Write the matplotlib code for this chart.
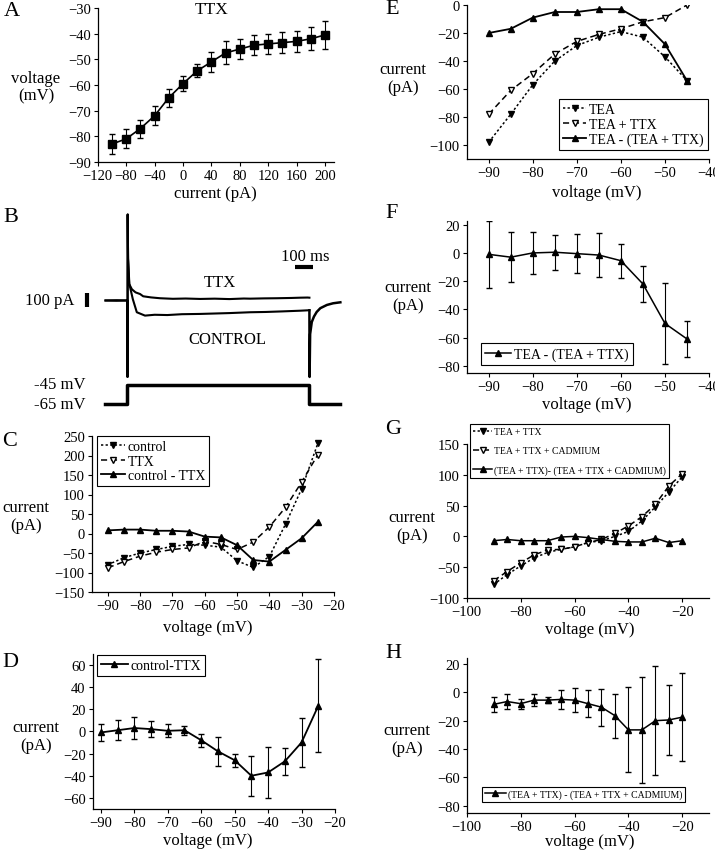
import numpy as np
import matplotlib
matplotlib.use("Agg")
import matplotlib.pyplot as plt

plt.rcParams['font.family'] = ['Liberation Serif', 'DejaVu Serif']
plt.rcParams['font.size'] = 10.5
plt.rcParams['axes.linewidth'] = 0.9

W, H = 715, 853

# ---------------- data ----------------
# A: current injection vs membrane voltage (TTX)
a_cur = [-100, -80, -60, -40, -20, 0, 20, 40, 60, 80, 100, 120, 140, 160, 180, 200]
a_volt = [-83, -81, -77, -72, -65, -59.5, -54.5, -51, -47.5, -46, -44.5, -44, -43.5, -43, -42, -40.5]
a_err = [4, 3.7, 3.5, 3.7, 3.5, 3, 2.5, 4, 4.5, 4, 4, 4, 4, 4.2, 4.5, 5.5]

# B: example current traces (ms, pA relative to holding)
b_ttx_t = [-120, -60, 0, 1, 2, 4, 10, 25, 45, 70, 87, 130, 180, 250, 320, 400, 480, 560, 640, 675, 750, 820, 900, 950, 990, 1000]
b_ttx_i = [0, 2, 0, -546, 614, 300, 118, 80, 58, 46, 30, 22, 16, 12, 14, 11, 13, 10, 14, 13, 15, 16, 18, 20, 21, 20]
b_ctl_t = [-120, -60, 0, 1, 2, 4, 11, 30, 52, 97, 150, 220, 300, 400, 480, 560, 675, 760, 850, 950, 995, 1000]
b_ctl_i = [0, -2, 0, -546, 614, 300, 118, 10, -84, -108, -102, -104, -98, -96, -93, -90, -84, -82, -78, -73, -70, -70]
b_tail_t = [1000, 1001, 1004, 1013, 1025, 1040, 1060, 1096, 1130, 1170]
b_tail_i = [-70, -546, -240, -154, -115, -82, -55, -32, -20, -13]
b_step_t = [-120, 0, 0, 1000, 1000, 1170]
b_step_v = [-65, -65, -45, -45, -65, -65]

# C: I-V, control / TTX / control - TTX
c_v = [-90, -85, -80, -75, -70, -65, -60, -55, -50, -45, -40, -35, -30, -25]
c_control = [-80, -62, -50, -41, -33, -28, -30, -35, -70, -87, -59, 24, 115, 231]
c_ttx = [-88, -72, -58, -48, -41, -37, -20, -28, -41, -22, 17, 67, 132, 202]
c_diff = [8, 10, 10, 7, 7, 5, -8, -10, -30, -68, -72, -42, -12, 30]

# D: control - TTX mean +/- error
d_v = c_v
d_mean = [-1, 1, 3, 2, 0.5, 1, -8, -18, -26, -40, -37, -27, -10, 23]
d_err = [8, 9, 10, 7, 6, 4, 6, 13, 6, 18, 23, 12, 22, 42]

# E: TEA / TEA + TTX / difference
e_v = [-90, -85, -80, -75, -70, -65, -60, -55, -50, -45]
e_tea = [-98, -78, -57, -40, -29, -23, -19, -23, -37, -54]
e_tea_ttx = [-78, -61, -49, -35, -26, -21, -17, -12, -9, 0]
e_diff = [-20, -17, -9, -5, -5, -3, -3, -12, -28, -54]

# F: TEA - (TEA + TTX) mean +/- error
f_v = e_v
f_mean = [-1, -3, 0, 0.5, -0.5, -1.5, -5.5, -22, -50, -61]
f_err = [24, 17.5, 15, 12.5, 14, 15.5, 12, 12.5, 29, 13]

# G: TEA + TTX / + cadmium / difference
g_v = [-90, -85, -80, -75, -70, -65, -60, -55, -50, -45, -40, -35, -30, -25, -20]
g_tt = [-78, -62, -48, -35, -26, -21, -17, -10, -7, 0, 8, 25, 48, 72, 97]
g_cd = [-72, -57, -43, -30, -22, -21, -17, -10, -5, 5, 17, 32, 52, 82, 102]
g_diff = [-7, -5, -7, -7, -7, -1, 0, -2, -5, -8, -9, -9, -3, -10, -7]

# H: cadmium-sensitive current mean +/- error
h_v = g_v
h_mean = [-8.5, -6.5, -8, -5.5, -5.5, -5, -5.5, -8, -10.5, -16.5, -26.5, -26.5, -20, -19.5, -17.5]
h_err = [5.5, 5, 3.5, 4.5, 2, 6.5, 8.5, 9.5, 13, 15.5, 30, 37.5, 38.5, 25, 31]


def box(l, t, r, b):
    return [l / W, 1 - b / H, (r - l) / W, (b - t) / H]


def px(x, y):
    return x / W, 1 - y / H


def style(ax, xt, yt, xl, yl):
    for s in ['top', 'right']:
        ax.spines[s].set_visible(False)
    ax.set_xlim(*xl)
    ax.set_ylim(*yl)
    ax.set_xticks(xt)
    ax.set_yticks(yt)
    ax.tick_params(direction='out', length=3, width=0.8, labelsize=10.5, pad=2)


def legend(ax, x0, y0, fs=10, loc='upper left', hl=1.9, ls=0.1):
    lg = ax.legend(loc=loc, bbox_to_anchor=px(x0, y0), bbox_transform=fig.transFigure,
                   borderaxespad=0, fancybox=False, framealpha=1, edgecolor='black',
                   fontsize=fs, handlelength=hl, handletextpad=0.2, labelspacing=ls,
                   borderpad=0.3)
    lg.get_frame().set_linewidth(0.8)


def errline(ax, x, y, err, label, lw):
    ax.errorbar(x, y, yerr=err, fmt='none', ecolor='black', elinewidth=0.8, capsize=2)
    ax.plot(x, y, '^-', color='black', ms=ms, lw=lw, label=label)


LBL = 12
dot = (0, (1.5, 1.5))
dash = (0, (4, 2.5))
ms = 5

fig = plt.figure(figsize=(W / 100, H / 100), dpi=100)

# ---------------- A ----------------
ax = fig.add_axes(box(97.7, 9, 334, 163))
ax.errorbar(a_cur, a_volt, yerr=a_err, fmt='s-', color='black', ms=6, lw=1.2,
            elinewidth=0.8, capsize=2)
style(ax, np.arange(-120, 201, 40), np.arange(-90, -29, 10), (-120, 212.7), (-90, -30))
fig.text(*px(212, 10), 'TTX', ha='center', va='center', fontsize=12.5)
fig.text(*px(36, 88), 'voltage\n(mV)', ha='center', va='center', fontsize=LBL, linespacing=1.1)
fig.text(*px(215, 194), 'current (pA)', ha='center', va='center', fontsize=LBL)

# ---------------- B ----------------
ax = fig.add_axes(box(80, 205, 345, 380))
ax.plot(b_ttx_t, b_ttx_i, color='black', lw=1.5)
ax.plot(b_ctl_t, b_ctl_i, color='black', lw=1.5)
ax.plot(b_tail_t, b_tail_i, color='black', lw=1.8)
ax.plot([-221, -221], [-50, 50], color='black', lw=3, solid_capstyle='butt')
ax.plot([920, 1020], [240, 240], color='black', lw=3, solid_capstyle='butt')
ax.set_xlim(-260, 1195.5)
ax.set_ylim(-560.7, 689)
ax.axis('off')
fig.text(*px(305, 257), '100 ms', ha='center', va='center', fontsize=LBL)
fig.text(*px(220, 283), 'TTX', ha='center', va='center', fontsize=LBL)
fig.text(*px(227, 340), 'CONTROL', ha='center', va='center', fontsize=LBL)
fig.text(*px(74, 301), '100 pA', ha='right', va='center', fontsize=LBL)

ax = fig.add_axes(box(80, 378, 345, 412))
ax.plot(b_step_t, b_step_v, color='black', lw=2.5)
ax.set_xlim(-260, 1195.5)
ax.set_ylim(-72.25, -37.0)
ax.axis('off')
fig.text(*px(85, 385), '-45 mV', ha='right', va='center', fontsize=LBL)
fig.text(*px(85, 405), '-65 mV', ha='right', va='center', fontsize=LBL)

# ---------------- C ----------------
ax = fig.add_axes(box(91.7, 437, 334, 593))
ax.plot(c_v, c_control, color='black', ls=dot, marker='v', ms=ms, lw=1.1, label='control')
ax.plot(c_v, c_ttx, color='black', ls=dash, marker='v', ms=ms, lw=1.1, mfc='white',
        label='TTX')
ax.plot(c_v, c_diff, color='black', ls='-', marker='^', ms=ms, lw=1.3, label='control - TTX')
style(ax, np.arange(-90, -19, 10), np.arange(-150, 251, 50), (-95, -20), (-150, 250))
legend(ax, 97, 437, hl=1.7)
fig.text(*px(26, 517), 'current\n(pA)', ha='center', va='center', fontsize=LBL, linespacing=1.1)
fig.text(*px(208, 628), 'voltage (mV)', ha='center', va='center', fontsize=LBL)

# ---------------- D ----------------
ax = fig.add_axes(box(92.5, 654.6, 335, 810.1))
errline(ax, d_v, d_mean, d_err, 'control-TTX', 1.3)
style(ax, np.arange(-90, -19, 10), np.arange(-60, 61, 20), (-92.5, -20), (-70, 70))
legend(ax, 97, 656, hl=1.9)
fig.text(*px(36, 737), 'current\n(pA)', ha='center', va='center', fontsize=LBL, linespacing=1.1)
fig.text(*px(208, 841), 'voltage (mV)', ha='center', va='center', fontsize=LBL)

# ---------------- E ----------------
ax = fig.add_axes(box(466.7, 6, 709, 160))
ax.plot(e_v, e_tea, color='black', ls=dot, marker='v', ms=ms, lw=1.1, label='TEA')
ax.plot(e_v, e_tea_ttx, color='black', ls=dash, marker='v', ms=ms, lw=1.1, mfc='white',
        label='TEA + TTX')
ax.plot(e_v, e_diff, color='black', ls='-', marker='^', ms=ms, lw=1.3,
        label='TEA - (TEA + TTX)')
style(ax, np.arange(-90, -39, 10), np.arange(-100, 1, 20), (-95, -40), (-110, 0))
legend(ax, 708, 150.7, loc='lower right', hl=1.7)
fig.text(*px(403, 79), 'current\n(pA)', ha='center', va='center', fontsize=LBL, linespacing=1.1)
fig.text(*px(597, 193), 'voltage (mV)', ha='center', va='center', fontsize=LBL)

# ---------------- F ----------------
ax = fig.add_axes(box(466.7, 221.5, 709, 373.8))
errline(ax, f_v, f_mean, f_err, 'TEA - (TEA + TTX)', 1.1)
style(ax, np.arange(-90, -39, 10), np.arange(-80, 21, 20), (-95, -40), (-85, 23))
legend(ax, 480.7, 366, loc='lower left', hl=1.9)
fig.text(*px(408, 297), 'current\n(pA)', ha='center', va='center', fontsize=LBL, linespacing=1.1)
fig.text(*px(587, 405), 'voltage (mV)', ha='center', va='center', fontsize=LBL)

# ---------------- G ----------------
ax = fig.add_axes(box(466.7, 445, 709.3, 599))
ax.plot(g_v, g_tt, color='black', ls=dot, marker='v', ms=ms, lw=1.1, label='TEA + TTX')
ax.plot(g_v, g_cd, color='black', ls=dash, marker='v', ms=ms, lw=1.1, mfc='white',
        label='TEA + TTX + CADMIUM')
ax.plot(g_v, g_diff, color='black', ls='-', marker='^', ms=ms, lw=1.1,
        label='(TEA + TTX)- (TEA + TTX + CADMIUM)')
style(ax, np.arange(-100, -19, 20), np.arange(-100, 151, 50), (-100, -10), (-100, 150))
legend(ax, 470, 425, fs=7, hl=2.0, ls=1.05)
fig.text(*px(412, 527), 'current\n(pA)', ha='center', va='center', fontsize=LBL, linespacing=1.1)
fig.text(*px(590, 630), 'voltage (mV)', ha='center', va='center', fontsize=LBL)

# ---------------- H ----------------
ax = fig.add_axes(box(466.7, 659.3, 709.3, 813.8))
errline(ax, h_v, h_mean, h_err, '(TEA + TTX) - (TEA + TTX + CADMIUM)', 1.1)
style(ax, np.arange(-100, -19, 20), np.arange(-80, 21, 20), (-100, -10), (-85, 24))
legend(ax, 481.7, 803, fs=7, loc='lower left', hl=2.2)
fig.text(*px(407, 740), 'current\n(pA)', ha='center', va='center', fontsize=LBL, linespacing=1.1)
fig.text(*px(590, 842), 'voltage (mV)', ha='center', va='center', fontsize=LBL)

# panel letters
for letter, x, y in [('A', 12, 11), ('B', 11, 218), ('C', 10, 442), ('D', 10, 663),
                     ('E', 392, 9), ('F', 392, 214), ('G', 393, 430), ('H', 393, 653)]:
    fig.text(*px(x, y), letter, ha='center', va='center', fontsize=16)

fig.savefig('out.png', dpi=100)
